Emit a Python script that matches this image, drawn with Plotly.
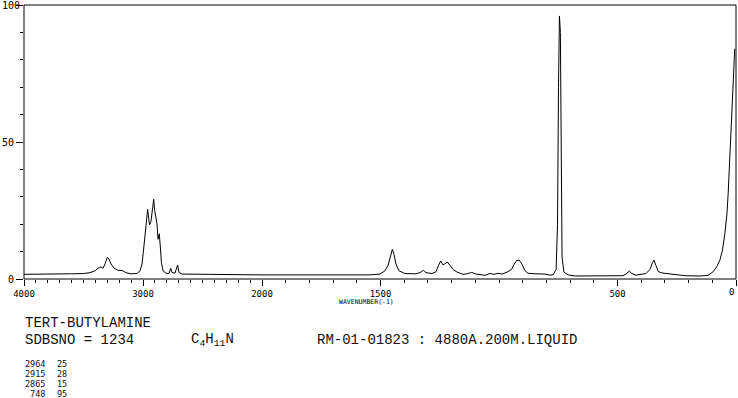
import numpy as np
import plotly.graph_objects as go

# ---- data ----
wavenumber = [4000, 3800, 3700, 3600, 3500, 3445, 3403, 3370, 3353, 3336, 3319, 3300, 3286, 3269,
              3244, 3210, 3168, 3143, 3101, 3050, 3025, 3008, 2992, 2975, 2961, 2952, 2945, 2933,
              2924, 2910, 2902, 2893, 2882, 2874, 2863, 2855, 2845, 2832, 2807, 2782, 2767, 2756,
              2731, 2709, 2698, 2672, 2500, 2300, 2150, 2000,
              1840, 1700, 1544, 1502, 1481, 1468, 1458, 1450, 1443, 1435, 1422, 1397, 1354, 1333,
              1319, 1308, 1283, 1266, 1255, 1246, 1236, 1228, 1218, 1207, 1194, 1178, 1152, 1135,
              1115, 1097, 1059, 1038, 1021, 1004, 987, 966, 947, 937, 926, 915, 905, 890, 878, 848,
              806, 785, 771, 759, 753, 749, 745, 741, 738, 734, 726, 709, 679, 574, 477, 464, 450,
              439, 422, 380, 363, 352, 346, 338, 328, 312, 279, 215, 152, 118, 96, 81, 68, 57, 47,
              38, 33, 25.5, 21, 15.6, 11, 5.4]
intensity = [1.7, 1.7, 1.8, 1.9, 2.0, 2.3, 3.0, 4.2, 4.4, 3.9, 5.5, 7.9, 7.3, 5.5,
             4.0, 3.2, 3.0, 2.3, 1.9, 2.0, 3.0, 5.5, 12, 21, 25.4, 22, 19.7, 21,
             24, 29.1, 25, 23, 20, 14.5, 16.5, 12, 6, 3, 2.1, 2.0, 3.9, 2.3,
             2.2, 5.1, 2.4, 1.8, 1.7, 1.6, 1.6, 1.5,
             1.5, 1.5, 1.5, 1.8, 3.0, 5.0, 8.5, 10.8, 9.0, 5.5, 3.0, 2.0, 1.9, 2.3,
             3.2, 2.3, 2.0, 2.6, 5.0, 6.6, 5.1, 5.5, 6.2, 5.0, 3.5, 2.6, 1.7, 1.9,
             2.4, 1.8, 1.35, 2.0, 1.7, 2.1, 1.8, 2.5, 3.5, 5.2, 6.7, 6.9, 5.7, 3.0, 2.1, 1.9,
             1.8, 1.4, 1.6, 3.5, 20, 70, 96, 90, 40, 8, 2.5, 1.5, 1.1, 1.1, 1.2, 1.8, 2.9,
             2.0, 1.4, 2.0, 3.5, 6.0, 6.9, 5.0, 2.7, 2.2, 1.8, 1.2, 1.1, 1.3, 2.7, 4.5, 6.9, 10.5, 16.6,
             24, 31.3, 45, 53.3, 66, 75.3, 84]

x_major_hi = [4000, 3000, 2000]
x_major_lo = [1500, 500, 0]
y_major = [0, 50, 100]

title = "TERT-BUTYLAMINE"
sdbs_line = "SDBSNO = 1234"
formula = "C<sub>4</sub>H<sub>11</sub>N"
conditions = "RM-01-01823 : 4880A.200M.LIQUID"
peak_wn = ["2964", "2915", "2865", " 748"]
peak_int = ["25", "28", "15", "95"]

# ---- layout geometry ----
W, H = 738, 398
L, R, T, B = 24, 2, 5, 119
PW, PH = W - L - R, H - T - B
split = 238 / PW

wn = np.array(wavenumber, dtype=float)
it = np.array(intensity, dtype=float)
hi = wn >= 2000
lo = wn <= 2000

fig = go.Figure()
fig.add_trace(go.Scatter(x=wn[hi], y=it[hi], mode="lines", xaxis="x", yaxis="y",
                         line=dict(color="black", width=1), hoverinfo="skip", showlegend=False,
                         cliponaxis=False))
fig.add_trace(go.Scatter(x=wn[lo], y=it[lo], mode="lines", xaxis="x2", yaxis="y",
                         line=dict(color="black", width=1), hoverinfo="skip", showlegend=False,
                         cliponaxis=False))

tickfont = dict(family="DejaVu Sans Mono", size=9, color="black")

# the end labels ("0" on x, "100" on y) would be dropped by plotly at the paper edge,
# so they are written as annotations instead
fig.update_layout(
    width=W, height=H,
    margin=dict(l=L, r=R, t=T, b=B, pad=0, autoexpand=False),
    paper_bgcolor="white", plot_bgcolor="white",
    xaxis=dict(domain=[0, split], range=[4000, 2000], anchor="y", automargin=False,
               tickmode="array", tickvals=x_major_hi, ticktext=[str(v) for v in x_major_hi],
               ticks="outside", ticklen=6, tickwidth=1, tickcolor="black",
               minor=dict(tickmode="array", tickvals=list(range(2100, 4000, 100)),
                          ticks="outside", ticklen=3, tickcolor="black"),
               showgrid=False, zeroline=False, showline=False, tickfont=tickfont),
    xaxis2=dict(domain=[split, 1], range=[2000, 0], anchor="y", automargin=False,
                tickmode="array", tickvals=x_major_lo,
                ticktext=[str(v) if v != 0 else "" for v in x_major_lo],
                ticks="outside", ticklen=6, tickwidth=1, tickcolor="black",
                minor=dict(tickmode="array", tickvals=list(range(100, 2000, 100)),
                           ticks="outside", ticklen=3, tickcolor="black"),
                showgrid=False, zeroline=False, showline=False, tickfont=tickfont),
    yaxis=dict(range=[0, 100], anchor="x", automargin=False,
               tickmode="array", tickvals=y_major,
               ticktext=[str(v) if v != 100 else "" for v in y_major],
               ticks="outside", ticklen=7, tickwidth=1, tickcolor="black",
               minor=dict(tickmode="array", tickvals=list(range(10, 100, 10)),
                          ticks="outside", ticklen=3, tickcolor="black"),
               showgrid=False, zeroline=False, showline=False,
               tickfont=dict(family="DejaVu Sans Mono", size=10, color="black")),
    shapes=[dict(type="rect", xref="paper", yref="paper", x0=0, x1=1, y0=0, y1=1,
                 line=dict(color="black", width=1), fillcolor="rgba(0,0,0,0)")],
)

def px(x):
    return (x - L) / PW

def py(y):
    return (H - B - y) / PH

big = dict(family="Liberation Mono", size=14, color="#111")
small = dict(family="DejaVu Sans Mono", size=8.5, color="#111")

ann = []
ann.append(dict(text=str(x_major_lo[-1]), x=1, y=py(292), xref="paper", yref="paper",
                showarrow=False, xanchor="right", yanchor="middle", font=tickfont))
ann.append(dict(text=str(y_major[-1]), x=px(0), y=1, xref="paper", yref="paper",
                showarrow=False, xanchor="left", yanchor="middle",
                font=dict(family="DejaVu Sans Mono", size=10, color="black")))
ann.append(dict(text="WAVENUMBER(-1)", x=px(366), y=py(301.5), xref="paper", yref="paper",
                showarrow=False, xanchor="center", yanchor="middle",
                font=dict(family="DejaVu Sans Mono", size=6.5, color="black")))
ann.append(dict(text=title, x=px(23), y=py(323), xref="paper", yref="paper",
                showarrow=False, xanchor="left", yanchor="middle", font=big))
ann.append(dict(text=sdbs_line, x=px(23), y=py(340), xref="paper", yref="paper",
                showarrow=False, xanchor="left", yanchor="middle", font=big))
ann.append(dict(text=formula, x=px(189), y=py(340), xref="paper", yref="paper",
                showarrow=False, xanchor="left", yanchor="middle", font=big))
ann.append(dict(text=conditions, x=px(315), y=py(340), xref="paper", yref="paper",
                showarrow=False, xanchor="left", yanchor="middle", font=big))
for i, (a, b) in enumerate(zip(peak_wn, peak_int)):
    yy = 364 + i * 10
    ann.append(dict(text=a.replace(" ", "&nbsp;"), x=px(23), y=py(yy), xref="paper", yref="paper",
                    showarrow=False, xanchor="left", yanchor="middle", font=small))
    ann.append(dict(text=b, x=px(55), y=py(yy), xref="paper", yref="paper",
                    showarrow=False, xanchor="left", yanchor="middle", font=small))
fig.update_layout(annotations=ann)

fig.write_html("out.html")
